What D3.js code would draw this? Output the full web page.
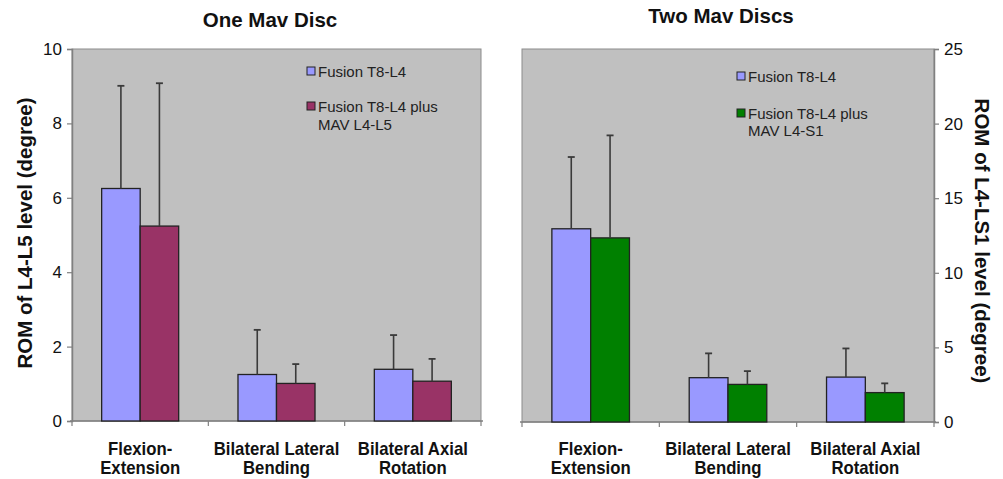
<!DOCTYPE html>
<html>
<head>
<meta charset="utf-8">
<script src="https://cdn.jsdelivr.net/npm/d3@7"></script>
<style>
  html, body { margin: 0; padding: 0; background: #fff; }
  svg { display: block; font-family: "Liberation Sans", Arial, sans-serif; }
</style>
</head>
<body>
<svg id="chart" width="1003" height="479"></svg>
<script>
// Motion categories (two-line labels)
const categories = ["Flexion-Extension", "Bilateral Lateral Bending", "Bilateral Axial Rotation"];
const categoryLines = [["Flexion-", "Extension"], ["Bilateral Lateral", "Bending"], ["Bilateral Axial", "Rotation"]];

// One MAV disc panel: mean ROM and SD (degrees)
const oneFusionMean = [6.25, 1.25, 1.39];
const oneFusionSD = [2.76, 1.20, 0.92];
const oneMavMean = [5.24, 1.01, 1.07];
const oneMavSD = [3.84, 0.52, 0.60];

// Two MAV discs panel: mean ROM and SD (degrees)
const twoFusionMean = [12.95, 2.97, 3.01];
const twoFusionSD = [4.81, 1.63, 1.92];
const twoMavMean = [12.34, 2.52, 1.97];
const twoMavSD = [6.87, 0.89, 0.62];

// Axis ticks
const oneTicks = [0, 2, 4, 6, 8, 10];
const twoTicks = [0, 5, 10, 15, 20, 25];

const svg = d3.select("#chart");

const panels = [
  {
    title: "One Mav Disc",
    titleX: 270, titleY: 27,
    x0: 72, x1: 481, top: 49, bottom: 421,
    yMax: 10, ticks: oneTicks, side: "left",
    yLabel: "ROM of L4-L5 level (degree)", yLabelX: 25, yLabelY: 233,
    series: [
      { name: "Fusion T8-L4", mean: oneFusionMean, sd: oneFusionSD, color: "#9999ff" },
      { name: "Fusion T8-L4 plus|MAV L4-L5", mean: oneMavMean, sd: oneMavSD, color: "#993366" }
    ],
    legend: { x: 307, y: [77, 112], lh: 18 }
  },
  {
    title: "Two Mav Discs",
    titleX: 721, titleY: 23,
    x0: 522, x1: 934, top: 49, bottom: 422,
    yMax: 25, ticks: twoTicks, side: "right",
    yLabel: "ROM of L4-LS1 level (degree)", yLabelX: 982, yLabelY: 241,
    series: [
      { name: "Fusion T8-L4", mean: twoFusionMean, sd: twoFusionSD, color: "#9999ff" },
      { name: "Fusion T8-L4 plus|MAV L4-S1", mean: twoMavMean, sd: twoMavSD, color: "#008000" }
    ],
    legend: { x: 737, y: [82, 119], lh: 17 }
  }
];

panels.forEach(p => {
  const g = svg.append("g");

  const x = d3.scaleBand().domain(categories).range([p.x0, p.x1]).padding(0);
  const xs = d3.scaleBand().domain(d3.range(p.series.length))
    .range([0, x.bandwidth()]).paddingInner(0).paddingOuter(0.77);
  const y = d3.scaleLinear().domain([0, p.yMax]).range([p.bottom, p.top]);

  // plot area
  g.append("rect")
    .attr("x", p.x0).attr("y", p.top)
    .attr("width", p.x1 - p.x0).attr("height", p.bottom - p.top)
    .attr("fill", "#c0c0c0").attr("stroke", "#8c8c8c").attr("stroke-width", 1);

  // value axis
  const yAxis = (p.side === "left" ? d3.axisLeft(y) : d3.axisRight(y))
    .tickValues(p.ticks).tickSize(5).tickPadding(5).tickFormat(d3.format("d"));
  const ya = g.append("g")
    .attr("transform", `translate(${p.side === "left" ? p.x0 : p.x1},0)`)
    .call(yAxis);
  ya.select(".domain").attr("stroke", "#808080").attr("stroke-width", 1.5);
  ya.selectAll(".tick line").attr("stroke", "#808080").attr("stroke-width", 1.2);
  ya.selectAll(".tick text").attr("fill", "#111").style("font-size", "17px");

  // category axis line with boundary ticks
  g.append("line")
    .attr("x1", p.x0 - 2).attr("x2", p.x1 + 2)
    .attr("y1", p.bottom).attr("y2", p.bottom)
    .attr("stroke", "#808080").attr("stroke-width", 1.5);
  const bounds = categories.map(c => x(c)).concat([p.x1]);
  g.selectAll(".ctick").data(bounds).join("line")
    .attr("x1", d => d).attr("x2", d => d)
    .attr("y1", p.bottom).attr("y2", p.bottom + 5)
    .attr("stroke", "#808080").attr("stroke-width", 1.2);

  // bars and error bars
  p.series.forEach((s, si) => {
    const sg = g.append("g");
    sg.selectAll("rect").data(categories).join("rect")
      .attr("x", (c) => x(c) + xs(si))
      .attr("y", (c, i) => y(s.mean[i]))
      .attr("width", xs.bandwidth())
      .attr("height", (c, i) => y(0) - y(s.mean[i]))
      .attr("fill", s.color).attr("stroke", "#222").attr("stroke-width", 1.3);

    const cx = c => x(c) + xs(si) + xs.bandwidth() / 2;
    sg.selectAll(".err").data(categories).join("line")
      .attr("x1", cx).attr("x2", cx)
      .attr("y1", (c, i) => y(s.mean[i]))
      .attr("y2", (c, i) => y(s.mean[i] + s.sd[i]))
      .attr("stroke", "#3a3a3a").attr("stroke-width", 1.6);
    sg.selectAll(".cap").data(categories).join("line")
      .attr("x1", c => cx(c) - 3.5).attr("x2", c => cx(c) + 3.5)
      .attr("y1", (c, i) => y(s.mean[i] + s.sd[i]))
      .attr("y2", (c, i) => y(s.mean[i] + s.sd[i]))
      .attr("stroke", "#3a3a3a").attr("stroke-width", 1.8);
  });

  // category labels (slightly condensed bold face)
  categoryLines.forEach((lines, i) => {
    const cxm = x(categories[i]) + x.bandwidth() / 2;
    lines.forEach((l, k) => g.append("text")
      .attr("transform", `translate(${cxm},${455 + k * 19}) scale(0.93,1)`)
      .attr("text-anchor", "middle")
      .attr("font-weight", "bold").attr("font-size", "18px").attr("fill", "#111")
      .text(l));
  });

  // title
  g.append("text").attr("x", p.titleX).attr("y", p.titleY)
    .attr("text-anchor", "middle").attr("font-weight", "bold")
    .attr("font-size", "20.5px").attr("fill", "#111").text(p.title);

  // value axis title
  g.append("text")
    .attr("transform", `translate(${p.yLabelX},${p.yLabelY}) rotate(${p.side === "left" ? -90 : 90})`)
    .attr("text-anchor", "middle").attr("dy", "0.35em")
    .attr("font-weight", "bold").attr("font-size", "20.5px").attr("fill", "#111")
    .text(p.yLabel);

  // legend
  p.series.forEach((s, si) => {
    const ly = p.legend.y[si];
    g.append("rect")
      .attr("x", p.legend.x).attr("y", ly - 10)
      .attr("width", 8).attr("height", 8)
      .attr("fill", s.color).attr("stroke", "#222").attr("stroke-width", 1);
    const t = g.append("text").attr("x", p.legend.x + 11).attr("y", ly)
      .attr("font-size", "15px").attr("fill", "#222");
    s.name.split("|").forEach((l, k) => t.append("tspan")
      .attr("x", p.legend.x + 11).attr("dy", k === 0 ? 0 : p.legend.lh).text(l));
  });
});
</script>
</body>
</html>
